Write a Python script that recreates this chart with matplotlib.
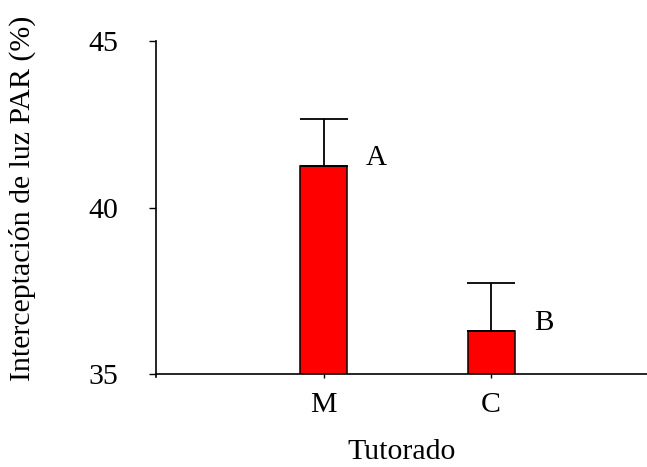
import numpy as np
import matplotlib.pyplot as plt

plt.rcParams['font.family'] = ['Liberation Serif', 'DejaVu Serif']

# intercepcion de luz por tipo de tutorado
tutorado = ['M', 'C']
intercep = [41.25, 36.29]
error = [1.41, 1.44]
letras = ['A', 'B']

fig = plt.figure(figsize=(6.47, 4.67), dpi=100)
ax = fig.add_axes([0.2411, 0.1991, 0.7589, 0.7131])

x = np.arange(1, len(tutorado) + 1)
ax.bar(x, intercep, width=0.28, color='#ff0000', edgecolor='black', linewidth=1.1, zorder=2)
ax.errorbar(x, intercep, yerr=[np.zeros(len(error)), error], fmt='none',
            ecolor='black', elinewidth=1.3, capsize=17.3, capthick=1.3, zorder=3)

for xi, v, l in zip(x, intercep, letras):
    ax.text(xi + 0.315, v + 0.25, l, ha='center', va='center', fontsize=21)

ax.set_xlim(0.0, 2.93)
ax.set_ylim(35, 45)
ax.set_yticks([35, 40, 45])
ax.set_xticks(x)
ax.set_xticklabels(tutorado)

ax.spines['top'].set_visible(False)
ax.spines['right'].set_visible(False)
ax.spines['left'].set_linewidth(1.2)
ax.spines['bottom'].set_linewidth(1.2)
ax.spines['left'].set_bounds(34.9, 45)

ax.tick_params(axis='y', direction='out', length=5, width=1, labelsize=21.5, pad=22)
ax.tick_params(axis='x', direction='out', length=3, width=1, labelsize=21.5, pad=10)

ax.set_xlabel('Tutorado', fontsize=21.5, labelpad=15)
ax.set_ylabel('Interceptación de luz PAR (%)', fontsize=21.5)
ax.yaxis.set_label_coords(-0.245, 0.528)

fig.savefig('out.png', dpi=100)
